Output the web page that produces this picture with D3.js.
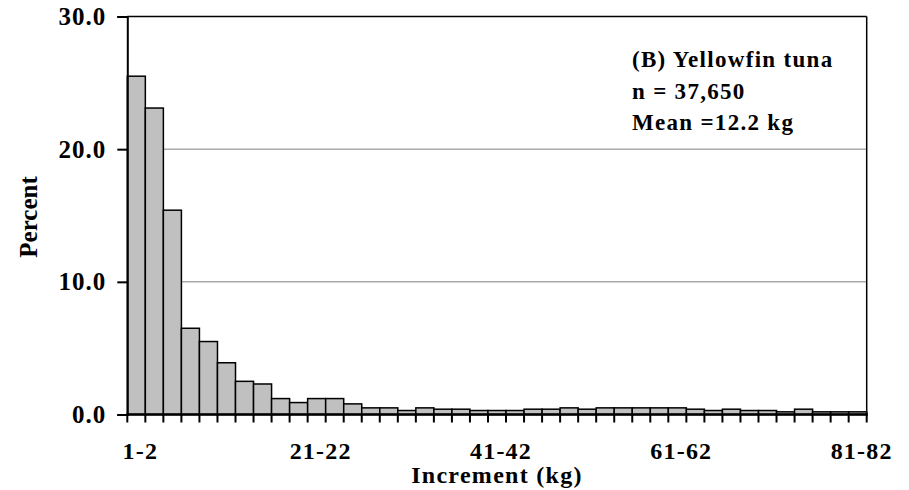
<!DOCTYPE html>
<html>
<head>
<meta charset="utf-8">
<script src="https://cdn.jsdelivr.net/npm/d3@7/dist/d3.min.js"></script>
<style>
  body { margin: 0; background: #fff; }
  text { font-family: "Liberation Serif", "Times New Roman", serif; font-weight: bold; fill: #000; }
</style>
</head>
<body>
<script>
// cac khoang tang truong (kg)
const bins = ["1-2", "3-4", "5-6", "7-8", "9-10", "11-12", "13-14", "15-16", "17-18", "19-20",
    "21-22", "23-24", "25-26", "27-28", "29-30", "31-32", "33-34", "35-36", "37-38", "39-40",
    "41-42", "43-44", "45-46", "47-48", "49-50", "51-52", "53-54", "55-56", "57-58", "59-60",
    "61-62", "63-64", "65-66", "67-68", "69-70", "71-72", "73-74", "75-76", "77-78", "79-80",
    "81-82"];
// phan tram moi khoang
const percent = [25.5, 23.1, 15.4, 6.5, 5.5, 3.9, 2.5, 2.3, 1.2, 0.9,
    1.2, 1.2, 0.8, 0.5, 0.5, 0.3, 0.5, 0.4, 0.4, 0.3,
    0.3, 0.3, 0.4, 0.4, 0.5, 0.4, 0.5, 0.5, 0.5, 0.5,
    0.5, 0.4, 0.3, 0.4, 0.3, 0.3, 0.2, 0.4, 0.2, 0.2,
    0.2];
const xLabels = ["1-2", "21-22", "41-42", "61-62", "81-82"];
const yTicks = [0, 10, 20, 30];
const gridTicks = [10, 20];
const notes = ["(B) Yellowfin tuna", "n = 37,650", "Mean =12.2 kg"];

const W = 909, H = 490;
const mLeft = 127.3, mRight = 866.7, mTop = 16.5, mBottom = 414.5;

const svg = d3.select("body").append("svg")
    .attr("width", W)
    .attr("height", H);

const x = d3.scaleBand().domain(bins).range([mLeft, mRight]).padding(0);
const y = d3.scaleLinear().domain([0, 30]).range([mBottom, mTop]);

//duong luoi
svg.selectAll(".grid")
    .data(gridTicks)
    .enter()
    .append("line")
    .attr("x1", mLeft)
    .attr("x2", mRight)
    .attr("y1", d => y(d))
    .attr("y2", d => y(d))
    .attr("stroke", "#808080")
    .attr("stroke-width", 1);

//cac cot
svg.selectAll(".bar")
    .data(percent)
    .enter()
    .append("rect")
    .attr("x", (d, i) => x(bins[i]))
    .attr("y", d => y(d))
    .attr("width", x.bandwidth())
    .attr("height", d => y(0) - y(d))
    .attr("fill", "#c0c0c0")
    .attr("stroke", "#000")
    .attr("stroke-width", 1.5);

//khung: tren va phai
svg.append("line")
    .attr("x1", mLeft).attr("x2", mRight)
    .attr("y1", y(30)).attr("y2", y(30))
    .attr("stroke", "#000").attr("stroke-width", 1.5);
svg.append("line")
    .attr("x1", mRight).attr("x2", mRight)
    .attr("y1", y(30)).attr("y2", y(0))
    .attr("stroke", "#000").attr("stroke-width", 1.5);

//truc y
const yAxis = d3.axisLeft(y)
    .tickValues(yTicks)
    .tickSize(10)
    .tickPadding(11)
    .tickFormat(d3.format(".1f"));
const gy = svg.append("g")
    .attr("transform", "translate(" + mLeft + ",0)")
    .call(yAxis);
gy.attr("font-family", null).attr("font-size", null);
gy.select(".domain").attr("stroke-width", 2);
gy.selectAll(".tick line").attr("stroke-width", 2);
gy.selectAll(".tick text")
    .attr("font-size", 25)
    .attr("letter-spacing", 1);

//truc x: vach chia o moi bien cua cot
const edges = bins.map(b => x(b)).concat([mRight]);
svg.selectAll(".xtick")
    .data(edges)
    .enter()
    .append("line")
    .attr("x1", d => d)
    .attr("x2", d => d)
    .attr("y1", y(0))
    .attr("y2", y(0) + 8)
    .attr("stroke", "#000")
    .attr("stroke-width", 2);
svg.append("line")
    .attr("x1", mLeft - 1).attr("x2", mRight + 1)
    .attr("y1", y(0)).attr("y2", y(0))
    .attr("stroke", "#000").attr("stroke-width", 2.5);

svg.selectAll(".xlab")
    .data(xLabels)
    .enter()
    .append("text")
    .attr("x", d => x(d) + x.bandwidth() / 2 + 4)
    .attr("y", 459)
    .attr("text-anchor", "middle")
    .attr("font-size", 24)
    .attr("letter-spacing", 1.2)
    .text(d => d);

//ten truc
svg.append("text")
    .attr("x", 497)
    .attr("y", 483)
    .attr("text-anchor", "middle")
    .attr("font-size", 24)
    .attr("letter-spacing", 1.3)
    .text("Increment (kg)");
svg.append("text")
    .attr("transform", "translate(37,217) rotate(-90)")
    .attr("text-anchor", "middle")
    .attr("font-size", 25)
    .text("Percent");

//chu thich
svg.selectAll(".note")
    .data(notes)
    .enter()
    .append("text")
    .attr("x", 632)
    .attr("y", (d, i) => 67 + i * 31.5)
    .attr("font-size", 23)
    .attr("letter-spacing", 1.3)
    .text(d => d);
</script>
</body>
</html>
